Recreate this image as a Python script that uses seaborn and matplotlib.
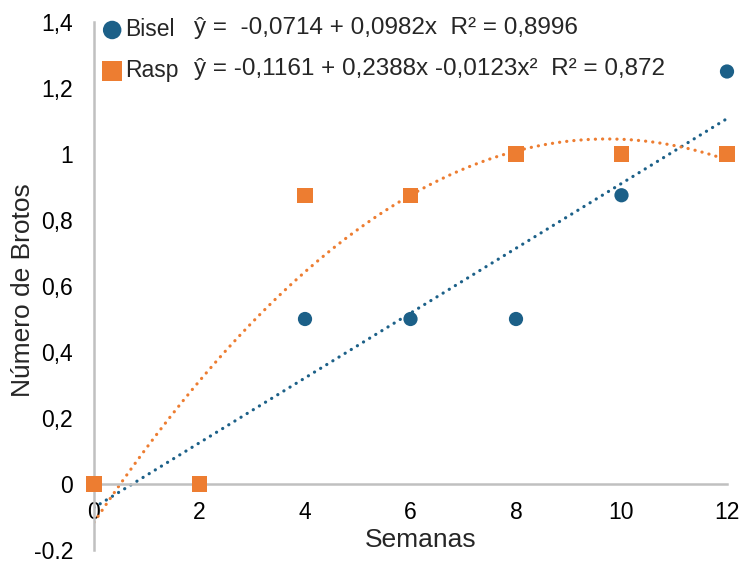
import numpy as np
import pandas as pd
import matplotlib.pyplot as plt
import seaborn as sns

semanas = [0, 2, 4, 6, 8, 10, 12]
bisel = [0, 0, 0.5, 0.5, 0.5, 0.875, 1.25]
rasp = [0, 0, 0.875, 0.875, 1.0, 1.0, 1.0]
y_ticks = [-0.2, 0, 0.2, 0.4, 0.6, 0.8, 1.0, 1.2, 1.4]
y_labels = ['-0.2', '0', '0,2', '0,4', '0,6', '0,8', '1', '1,2', '1,4']
x_ticks = [0, 2, 4, 6, 8, 10, 12]
eq_bisel = 'ŷ =  -0,0714 + 0,0982x  R² = 0,8996'
eq_rasp = 'ŷ = -0,1161 + 0,2388x -0,0123x²  R² = 0,872'

blue = '#1C6088'
orange = '#ED7D31'

sns.set_style('white')
plt.rcParams['font.family'] = ['Liberation Sans', 'DejaVu Sans']

df = pd.DataFrame({'Semanas': semanas, 'Bisel': bisel, 'Rasp': rasp})

fig = plt.figure(figsize=(7.44, 5.61), dpi=100)
ax = fig.add_axes([94 / 744, 11 / 561, 633 / 744, 528 / 561])

# trend lines (fitted from the data, like Excel)
xs = np.linspace(0, 12, 200)
cb = np.polyfit(df['Semanas'], df['Bisel'], 1)
cr = np.polyfit(df['Semanas'], df['Rasp'], 2)
dotted = (0, (0.05, 2.2))
ax.plot(xs, np.polyval(cb, xs), color=blue, lw=2.3, linestyle=dotted,
        dash_capstyle='round', zorder=2)
ax.plot(xs, np.polyval(cr, xs), color=orange, lw=2.3, linestyle=dotted,
        dash_capstyle='round', zorder=2)

sns.scatterplot(data=df, x='Semanas', y='Bisel', ax=ax, color=blue, marker='o',
                s=105, edgecolor='none', label='Bisel', zorder=3)
sns.scatterplot(data=df, x='Semanas', y='Rasp', ax=ax, color=orange, marker='s',
                s=120, edgecolor='none', label='Rasp', zorder=4)

ax.set_xlim(0, 12)
ax.set_ylim(-0.2, 1.4)
ax.set_yticks(y_ticks)
ax.set_yticklabels(y_labels)
ax.set_xticks(x_ticks)
ax.tick_params(length=0, labelsize=16.5, colors='#000000')
ax.tick_params(axis='x', pad=12)
ax.tick_params(axis='y', pad=15)

for s in ['top', 'right']:
    ax.spines[s].set_visible(False)
ax.spines['bottom'].set_position(('data', 0))
ax.spines['bottom'].set_color('#C0C0C0')
ax.spines['left'].set_color('#C0C0C0')
ax.spines['bottom'].set_linewidth(1.8)
ax.spines['left'].set_linewidth(1.8)
for c in ax.collections:
    c.set_clip_on(False)

ax.set_xlabel('Semanas', fontsize=19)
ax.set_ylabel('Número de Brotos', fontsize=19)
ax.xaxis.set_label_coords((421 - 94) / 633, (550 - 528) / 528)
ax.yaxis.set_label_coords((35 - 94) / 633, (550 - 290) / 528)

leg = ax.legend(loc='upper left', bbox_to_anchor=(103 / 744, 1 - 18 / 561),
                bbox_transform=fig.transFigure, frameon=False, fontsize=16.5,
                handlelength=0.8, handletextpad=0.15, labelspacing=0.8,
                borderpad=0, borderaxespad=0, markerscale=1.3)
fig.text(194 / 744, 1 - 28 / 561, eq_bisel, fontsize=17.5, va='center', ha='left')
fig.text(194 / 744, 1 - 69 / 561, eq_rasp, fontsize=17.5, va='center', ha='left')

fig.savefig('out.png', dpi=100)
